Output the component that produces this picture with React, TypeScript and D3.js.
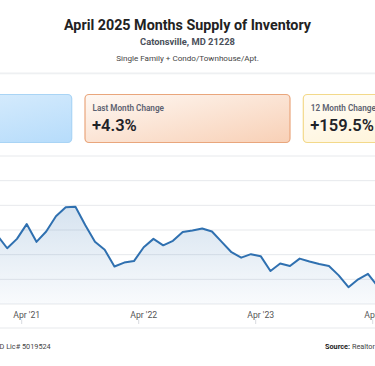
import React, { useEffect } from "react";
import * as d3 from "d3";

// ---- data ----
const months: string[] = [
  "Jan 2021", "Feb 2021", "Mar 2021", "Apr 2021", "May 2021", "Jun 2021", "Jul 2021", "Aug 2021",
  "Sep 2021", "Oct 2021", "Nov 2021", "Dec 2021", "Jan 2022", "Feb 2022", "Mar 2022", "Apr 2022",
  "May 2022", "Jun 2022", "Jul 2022", "Aug 2022", "Sep 2022", "Oct 2022", "Nov 2022", "Dec 2022",
  "Jan 2023", "Feb 2023", "Mar 2023", "Apr 2023", "May 2023", "Jun 2023", "Jul 2023", "Aug 2023",
  "Sep 2023", "Oct 2023", "Nov 2023", "Dec 2023", "Jan 2024", "Feb 2024", "Mar 2024", "Apr 2024",
];
const supply: number[] = [
  1.39, 1.13, 1.32, 1.62, 1.26, 1.47, 1.78, 1.96,
  1.97, 1.6, 1.26, 1.1, 0.76, 0.84, 0.87, 1.15,
  1.32, 1.19, 1.28, 1.46, 1.49, 1.53, 1.47, 1.26,
  1.05, 0.94, 1.01, 0.97, 0.67, 0.82, 0.77, 0.92,
  0.86, 0.81, 0.77, 0.58, 0.34, 0.5, 0.61, 0.36,
];
const tickIndexes: number[] = [3, 15, 27, 39];
const tickLabels: string[] = ["Apr '21", "Apr '22", "Apr '23", "Apr '24"];
const yTicks: number[] = [0, 0.5, 1, 1.5, 2, 2.5, 3];

const boxLabels: string[] = ["Months Supply", "Last Month Change", "12 Month Change"];
const boxValues: string[] = ["", "+4.3%", "+159.5%"];

const title = "April 2025 Months Supply of Inventory";
const subtitle = "Catonsville, MD 21228";
const subtitle2 = "Single Family + Condo/Townhouse/Apt.";
const footerLeft = "MD Lic# 5019524";

const W = 375;
const H = 366;
const FONT = "Roboto, 'Noto Sans', sans-serif";

export default function App() {
  useEffect(() => {
    document.body.style.margin = "0";
  }, []);

  const x = d3.scaleLinear().domain([0, months.length - 1]).range([-2.55, 377.7]);
  const y = d3.scaleLinear().domain([0, 3]).range([304, 156]);

  const line = d3
    .line<number>()
    .x((_, i) => x(i))
    .y((d) => y(d));
  const area = d3
    .area<number>()
    .x((_, i) => x(i))
    .y0(y(0))
    .y1((d) => y(d));

  const boxW = 205;
  const boxGap = 13.3;
  const boxX0 = 85 - boxW - boxGap;
  const boxStyles = [
    { grad: "gBlue", stroke: "#a9d4f5" },
    { grad: "gOrange", stroke: "#e9a67c" },
    { grad: "gYellow", stroke: "#f3d98a" },
  ];

  return (
    <div style={{ position: "absolute", left: 0, top: 0 }}>
      <svg width={W} height={H} style={{ display: "block", background: "#fff" }} fontFamily={FONT}>
        <defs>
          <linearGradient id="gBlue" x1="0" y1="0" x2="1" y2="1">
            <stop offset="0" stopColor="#e2f1fd" />
            <stop offset="1" stopColor="#b6dcfb" />
          </linearGradient>
          <linearGradient id="gOrange" x1="0" y1="0" x2="1" y2="1">
            <stop offset="0" stopColor="#fef8f3" />
            <stop offset="1" stopColor="#f8d0b6" />
          </linearGradient>
          <linearGradient id="gYellow" x1="0" y1="0" x2="1" y2="1">
            <stop offset="0" stopColor="#fffdf7" />
            <stop offset="1" stopColor="#fff1cf" />
          </linearGradient>
          <linearGradient id="gArea" gradientUnits="userSpaceOnUse" x1="0" y1={y(2)} x2="0" y2={y(0)}>
            <stop offset="0" stopColor="#2f70b0" stopOpacity={0.2} />
            <stop offset="1" stopColor="#2f70b0" stopOpacity={0.03} />
          </linearGradient>
        </defs>

        {/* header */}
        <text x={187.5} y={29.5} textAnchor="middle" fontSize={14.3} fontWeight={700} fill="#222">
          {title}
        </text>
        <text x={187.5} y={45} textAnchor="middle" fontSize={9.4} fontWeight={700} fill="#4a4f5a">
          {subtitle}
        </text>
        <text x={187.5} y={60.5} textAnchor="middle" fontSize={8.1} fill="#444">
          {subtitle2}
        </text>
        <rect x={0} y={72.5} width={W} height={1.8} fill="#eef0f2" />

        {/* stat boxes */}
        {boxLabels.map((lbl, i) => {
          const bx = boxX0 + i * (boxW + boxGap);
          return (
            <g key={lbl}>
              <rect
                x={bx}
                y={94.5}
                width={boxW}
                height={48}
                rx={4}
                fill={`url(#${boxStyles[i].grad})`}
                stroke={boxStyles[i].stroke}
                strokeWidth={1.2}
              />
              <text x={bx + 7.5} y={110.5} fontSize={8.2} fontWeight={600} fill="#5b6170">
                {lbl}
              </text>
              <text x={bx + 7} y={131} fontSize={16.5} fontWeight={600} fill="#1f2328">
                {boxValues[i]}
              </text>
            </g>
          );
        })}

        {/* gridlines */}
        {yTicks.map((t) => (
          <line key={t} x1={0} x2={W} y1={y(t)} y2={y(t)} stroke="#e7e9ec" strokeWidth={1} />
        ))}

        {/* area + line */}
        <path d={area(supply) || ""} fill="url(#gArea)" />
        <path d={line(supply) || ""} fill="none" stroke="#2f70b0" strokeWidth={2} strokeLinejoin="round" />

        {/* x labels */}
        {tickIndexes.map((ti, i) => (
          <text key={ti} x={x(ti)} y={318} textAnchor="middle" fontSize={8.7} fill="#555">
            {tickLabels[i]}
          </text>
        ))}
        {tickIndexes.map((ti) => (
          <line key={"t" + ti} x1={x(ti) - 5} x2={x(ti) - 5} y1={319.5} y2={324} stroke="#d8dbdf" strokeWidth={1} />
        ))}
        <line x1={0} x2={W} y1={328} y2={328} stroke="#e7e9ec" strokeWidth={1} />

        {/* footer */}
        <text x={50.7} y={349} textAnchor="end" fontSize={7.3} fill="#444">
          {footerLeft}
        </text>
        <text x={325} y={349} fontSize={7.3} fill="#444">
          <tspan fontWeight={700} fill="#222">Source:</tspan>
          <tspan> Realtors Property Resource®</tspan>
        </text>
      </svg>
    </div>
  );
}
